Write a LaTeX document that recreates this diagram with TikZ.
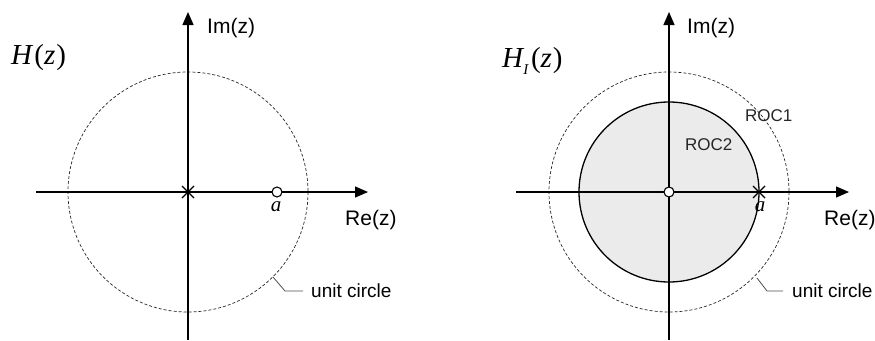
\documentclass[tikz,border=0pt]{standalone}
\usepackage{fontspec}
\setmainfont{Liberation Serif}
\newfontfamily\arialf{Liberation Sans}
\usetikzlibrary{arrows.meta,calc}
\tikzset{
  axis/.style={line width=1.3pt, -{Triangle[length=13pt,width=11pt]}},
  ucircle/.style={dashed, dash pattern=on 3pt off 2pt, line width=0.7pt, black!85},
  roccircle/.style={line width=1.3pt, fill=black!8},
  lbl/.style={font=\arialf\fontsize{21}{24}\selectfont, inner sep=0pt, anchor=west},
  roclbl/.style={font=\arialf\fontsize{17}{20}\selectfont, inner sep=0pt, anchor=west, text=black!85},
  ulbl/.style={font=\arialf\fontsize{19}{22}\selectfont, inner sep=0pt, anchor=west},
  tf/.style={font=\fontsize{29}{32}\selectfont, inner sep=0pt, anchor=west},
  alab/.style={font=\fontsize{21}{24}\selectfont\itshape, inner sep=0pt},
  zeromark/.style={circle, draw, line width=1.1pt, fill=white, minimum size=10pt, inner sep=0pt},
  polemark/.style={line width=1.2pt},
  leader/.style={line width=0.8pt, black!70}
}
\begin{document}
\begin{tikzpicture}[x=1pt,y=-1pt]
\useasboundingbox (0,0) rectangle (875,340);
% ---------- Left panel ----------
\coordinate (Lc) at (188,192);
\draw[ucircle] (Lc) circle (120);
\coordinate (Lxl) at (36,192);
\coordinate (Lxr) at (368,192);
\coordinate (Lyb) at (188,340);
\coordinate (Lyt) at (188,12);
\draw[axis] (Lxl) -- (Lxr);
\draw[axis] (Lyb) -- (Lyt);
\draw[polemark] ($(Lc)+(-6,-6)$) -- ($(Lc)+(6,6)$) ($(Lc)+(-6,6)$) -- ($(Lc)+(6,-6)$);
\node[zeromark] (Lz) at (277,192) {};
\node[alab] (La) at (276,207) {a};
\node[lbl] (Lim) at (207,28) {Im(z)};
\node[lbl] (Lre) at (345,220) {Re(z)};
\node[tf] (LH) at (11,58) {\textit{H}\kern1pt(\textit{z}\kern1pt)};
\coordinate (Lu1) at (273,277);
\coordinate (Lu2) at (285,291);
\coordinate (Lu3) at (303,291);
\draw[leader] (Lu1) -- (Lu2) -- (Lu3);
\node[ulbl] (Lu) at (311,291) {unit circle};
% ---------- Right panel ----------
\coordinate (Rc) at (669,192);
\draw[roccircle] (Rc) circle (90);
\draw[ucircle] (Rc) circle (120);
\coordinate (Rxl) at (516,192);
\coordinate (Rxr) at (849,192);
\coordinate (Ryb) at (669,340);
\coordinate (Ryt) at (669,12);
\draw[axis] (Rxl) -- (Rxr);
\draw[axis] (Ryb) -- (Ryt);
\node[zeromark] (Rz) at (Rc) {};
\coordinate (Rp) at (759,192);
\draw[polemark] ($(Rp)+(-6,-6)$) -- ($(Rp)+(6,6)$) ($(Rp)+(-6,6)$) -- ($(Rp)+(6,-6)$);
\node[alab] (Ra) at (760,207) {a};
\node[lbl] (Rim) at (687,28) {Im(z)};
\node[lbl] (Rre) at (824,220) {Re(z)};
\node[tf] (RH) at (502,61) {\textit{H}\kern-1pt\raisebox{-7pt}{\fontsize{15}{17}\selectfont\textit{I}}\kern2pt(\textit{z}\kern1pt)};
\node[roclbl] (R1) at (745,116) {ROC1};
\node[roclbl] (R2) at (685,145) {ROC2};
\coordinate (Ru1) at (757,278);
\coordinate (Ru2) at (767,291);
\coordinate (Ru3) at (783,291);
\draw[leader] (Ru1) -- (Ru2) -- (Ru3);
\node[ulbl] (Ru) at (792,291) {unit circle};
\end{tikzpicture}
\end{document}
